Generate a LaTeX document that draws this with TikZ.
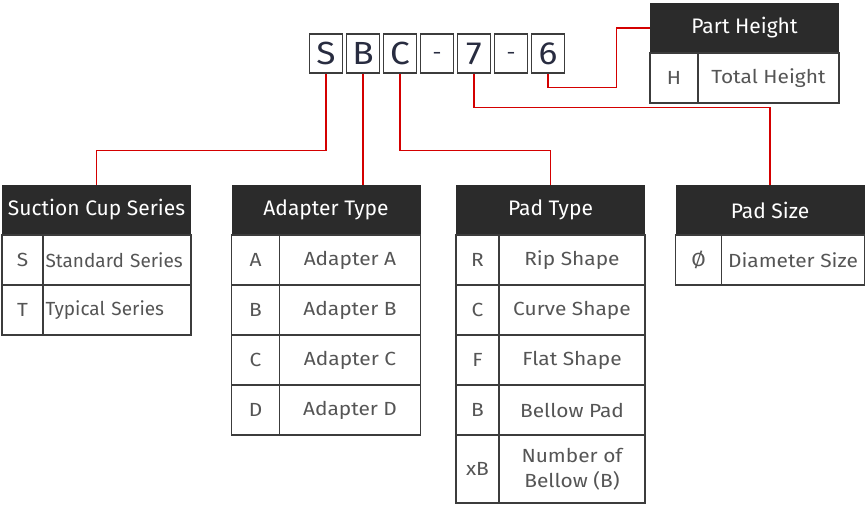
\documentclass[tikz,border=0pt]{standalone}
\usepackage{fontspec}
\setmainfont{Fira Sans}
\newfontfamily\vekony{Fira Sans}[FakeStretch=1.1]
\usetikzlibrary{positioning,calc}
\definecolor{fejszin}{HTML}{2B2B2B}
\definecolor{racs}{HTML}{3C3C3C}
\definecolor{szoveg}{HTML}{555555}
\definecolor{kodszin}{HTML}{282C40}
\definecolor{piros}{HTML}{D40000}
\newcommand{\kotj}{\raisebox{5pt}{\fontsize{20}{20}\selectfont-}}
\tikzset{
  kod/.style={draw=racs,line width=1.6pt,fill=white,minimum width=33pt,minimum height=39pt,
    inner sep=0pt,text height=22pt,text depth=0pt,text=kodszin,font=\vekony\fontsize{32}{32}\selectfont},
  fej/.style={fill=fejszin,text=white,minimum width=189pt,minimum height=50pt,inner sep=0pt,
    font=\fontsize{21}{21}\selectfont},
  cella/.style={draw=racs,line width=1.8pt,minimum height=50pt,inner sep=0pt,text=szoveg,
    font=\vekony\fontsize{19}{25}\selectfont},
  balra/.style={align=left,text width=143pt,inner xsep=2pt,font=\fontsize{19}{19}\selectfont},
  kapcs/.style={draw=piros,line width=1.2pt},
}
% #2 name, #3 left x, #4 top y, #5 key column width, #6 title, #7 rows
\newcommand{\tabla}[7][]{%
  \node[fej] (h#2) at (#3+94.5,#4+25) {#6};
  \foreach \k/\v [count=\i] in {#7} {
    \node[cella,minimum width=#5pt] (k#2\i) at (#3+#5/2,#4+50*\i+25) {\k};
    \node[cella,minimum width={(189-#5)*1pt},#1] (v#2\i) at (#3+#5+94.5-#5/2,#4+50*\i+25) {\v};
  }}

\begin{document}
\begin{tikzpicture}[x=1pt,y=-1pt]
  \useasboundingbox (0,0) rectangle (865,510);
  % code letters
  \foreach \c/\n [count=\i from 0] in {S/S,B/B,C/C,\kotj/d1,7/7,\kotj/d2,6/6}
    \node[kod] (c\n) at (326+37*\i,53.5) {\c};
  % tables
  \tabla{Height}{650}{3}{48}{Part Height}{H/Total Height}
  \tabla[balra]{Series}{2}{185}{41}{Suction Cup Series}{S/Standard Series,T/Typical Series}
  \tabla{Adapter}{231.5}{185}{48}{Adapter Type}{A/Adapter A,B/Adapter B,C/Adapter C,D/Adapter D}
  \tabla{Pad}{456}{185}{43}{Pad Type}{R/Rip Shape,C/Curve Shape,F/Flat Shape,B/Bellow Pad}
  \node[cella,minimum width=43pt,minimum height=68pt] (kPad5) at (477.5,469) {xB};
  \node[cella,minimum width=146pt,minimum height=68pt,align=center] (vPad5) at (572,469)
    {Number of\\Bellow (B)};
  \tabla{Size}{675.5}{185}{46}{Pad Size}{\O/Diameter Size}
  % links
  \draw[kapcs] (cS.south) -- ++(0,77) -| (hSeries.north);
  \draw[kapcs] (cB.south) -- (cB.south |- hAdapter.north);
  \draw[kapcs] (cC.south) -- ++(0,77) -| (hPad.north);
  \draw[kapcs] (c7.south) -- ++(0,34) -| (hSize.north);
  \draw[kapcs] (c6.south) -- ++(0,14) -| ([xshift=-33pt]hHeight.west) -- (hHeight.west);
\end{tikzpicture}
\end{document}
